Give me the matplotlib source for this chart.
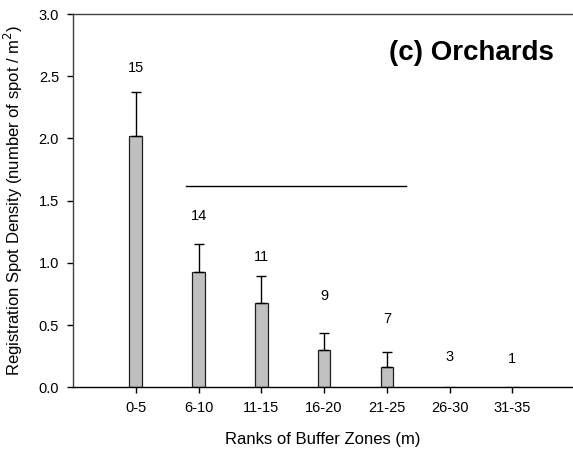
import matplotlib
matplotlib.use("Agg")
import matplotlib.pyplot as plt

plt.rcParams["font.family"] = ["Liberation Sans", "DejaVu Sans"]

zones = ["0-5", "6-10", "11-15", "16-20", "21-25", "26-30", "31-35"]
density = [2.02, 0.93, 0.68, 0.30, 0.165, 0.0, 0.0]
upper_err = [0.35, 0.22, 0.215, 0.14, 0.115, 0.0, 0.0]
counts = [15, 14, 11, 9, 7, 3, 1]
count_y = [2.57, 1.38, 1.05, 0.73, 0.55, 0.24, 0.225]


def main():
    fig = plt.figure(figsize=(5.73, 4.53), dpi=100)
    ax = fig.add_axes([73 / 573, 1 - 387.3 / 453, 499 / 573, 373.3 / 453])

    x = list(range(1, len(zones) + 1))
    n_err = 5
    ax.bar(x, density, width=0.2, color="#c0c0c0", edgecolor="#202020",
           linewidth=0.9, zorder=2)
    ax.errorbar(x[:n_err], density[:n_err],
                yerr=[[0] * n_err, upper_err[:n_err]],
                fmt="none", ecolor="black", elinewidth=1.0,
                capsize=3.3, capthick=1.0, zorder=3)

    for xi, c, yy in zip(x, counts, count_y):
        ax.text(xi, yy, str(c), ha="center", va="center", fontsize=10.5)

    # grouping line over zones 6-25
    ax.plot([1.80, 5.31], [1.618, 1.618], color="black", linewidth=1.0)

    fig.text(554 / 573, 1 - 53 / 453, "(c) Orchards",
             ha="right", va="center", fontsize=20, fontweight="bold")

    ax.set_xlim(0, 7.95)
    ax.set_ylim(0, 3.0)
    ax.set_xticks(x)
    ax.set_xticklabels(zones, fontsize=10.5)
    ax.set_yticks([0.0, 0.5, 1.0, 1.5, 2.0, 2.5, 3.0])
    ax.set_yticklabels(["0.0", "0.5", "1.0", "1.5", "2.0", "2.5", "3.0"],
                       fontsize=10.5)
    ax.tick_params(direction="out", length=4, width=1.0, pad=6)

    ax.spines["right"].set_visible(False)
    for side in ["left", "top", "bottom"]:
        ax.spines[side].set_linewidth(1.0)
    ax.spines["left"].set_color("#404040")
    ax.spines["top"].set_color("#404040")

    ax.set_xlabel("Ranks of Buffer Zones (m)", fontsize=12, labelpad=12)
    ax.set_ylabel("Registration Spot Density (number of spot / m$^2$)",
                  fontsize=12, labelpad=10)

    fig.savefig("out.png", dpi=100)


if __name__ == "__main__":
    main()
